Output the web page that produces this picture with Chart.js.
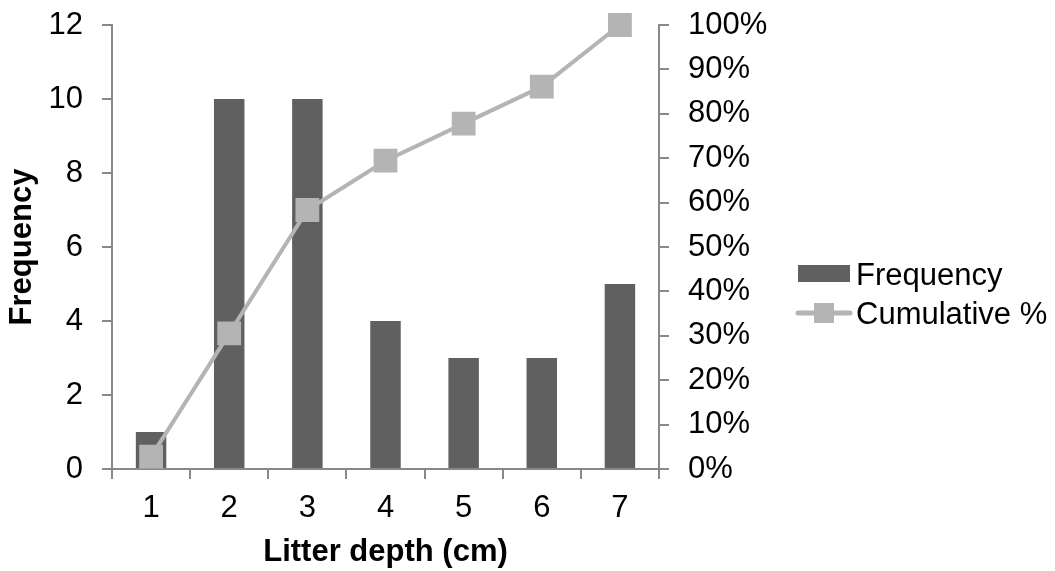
<!DOCTYPE html>
<html>
<head>
<meta charset="utf-8">
<script src="https://cdn.jsdelivr.net/npm/chart.js@4"></script>
<style>
  html, body { margin: 0; padding: 0; background: #fff; }
  #wrap { width: 1055px; height: 571px; }
</style>
</head>
<body>
<div id="wrap"><canvas id="chart" width="1055" height="571"></canvas></div>
<script>
// data
const depths = ["1", "2", "3", "4", "5", "6", "7"];
const frequency = [1, 10, 10, 4, 3, 3, 5];
const cumulativePct = [2.78, 30.56, 58.33, 69.44, 77.78, 86.11, 100];

const barColor = "#606060";
const lineColor = "#b4b4b4";
const axisColor = "#888888";
const fontFamily = "'Liberation Sans', Arial, sans-serif";
const fontSize = 31;

//legend drawn at the right like the original
const sideLegend = {
  id: "sideLegend",
  afterDraw(chart) {
    const ctx = chart.ctx;
    const lineSet = chart.data.datasets[0];
    const barSet = chart.data.datasets[1];
    ctx.save();
    ctx.font = fontSize + "px " + fontFamily;
    ctx.textBaseline = "middle";
    ctx.fillStyle = barColor;
    ctx.fillRect(798, 265, 52, 17);
    ctx.fillStyle = "#000";
    ctx.fillText(barSet.label, 856, 276);
    ctx.strokeStyle = lineColor;
    ctx.lineWidth = 5;
    ctx.lineCap = "round";
    ctx.beginPath();
    ctx.moveTo(798, 313);
    ctx.lineTo(850, 313);
    ctx.stroke();
    ctx.fillStyle = lineColor;
    ctx.fillRect(814, 303, 20, 20);
    ctx.fillStyle = "#000";
    ctx.fillText(lineSet.label, 856, 315);
    ctx.restore();
  }
};

//fix axis widths and drop the extra label padding at the top
const fitVertical = (w) => (s) => {
  s.width = w;
  s.paddingTop = 0;
  s.paddingBottom = 0;
};

new Chart(document.getElementById("chart"), {
  plugins: [sideLegend],
  data: {
    labels: depths,
    datasets: [
      {
        type: "line",
        label: "Cumulative %",
        data: cumulativePct,
        yAxisID: "y1",
        borderColor: lineColor,
        backgroundColor: lineColor,
        borderWidth: 4,
        pointStyle: "rect",
        pointRadius: 14,
        pointHoverRadius: 14,
        clip: false,
        order: 0,
      },
      {
        type: "bar",
        label: "Frequency",
        data: frequency,
        yAxisID: "y",
        backgroundColor: barColor,
        categoryPercentage: 1,
        barPercentage: 0.39,
        order: 1,
      },
    ],
  },
  options: {
    responsive: false,
    animation: false,
    layout: { padding: { top: 25, right: 276, left: 0, bottom: 0 } },
    plugins: {
      legend: { display: false },
      tooltip: { enabled: false },
    },
    scales: {
      x: {
        offset: true,
        grid: { offset: true, drawOnChartArea: false, color: axisColor, tickLength: 10, lineWidth: 2 },
        border: { color: axisColor, width: 2 },
        ticks: { color: "#000", font: { family: fontFamily, size: fontSize }, padding: 11 },
        title: {
          display: true,
          text: "Litter depth (cm)",
          color: "#000",
          font: { family: fontFamily, size: fontSize, weight: "bold" },
          padding: { top: 0, bottom: 0 },
        },
        afterFit: (s) => { s.height = 102; },
      },
      y: {
        position: "left",
        min: 0,
        max: 12,
        grid: { drawOnChartArea: false, color: axisColor, tickLength: 10, lineWidth: 2 },
        border: { color: axisColor, width: 2 },
        ticks: { stepSize: 2, color: "#000", font: { family: fontFamily, size: fontSize }, padding: 19 },
        title: {
          display: true,
          text: "Frequency",
          color: "#000",
          font: { family: fontFamily, size: fontSize, weight: "bold" },
          padding: { top: 4, bottom: 0 },
        },
        afterFit: fitVertical(112),
      },
      y1: {
        position: "right",
        min: 0,
        max: 100,
        grid: { drawOnChartArea: false, color: axisColor, tickLength: 10, lineWidth: 2 },
        border: { color: axisColor, width: 2 },
        ticks: {
          stepSize: 10,
          color: "#000",
          font: { family: fontFamily, size: fontSize },
          padding: 19,
          callback: (v) => v + "%",
        },
        afterFit: fitVertical(120),
      },
    },
  },
});
</script>
</body>
</html>
